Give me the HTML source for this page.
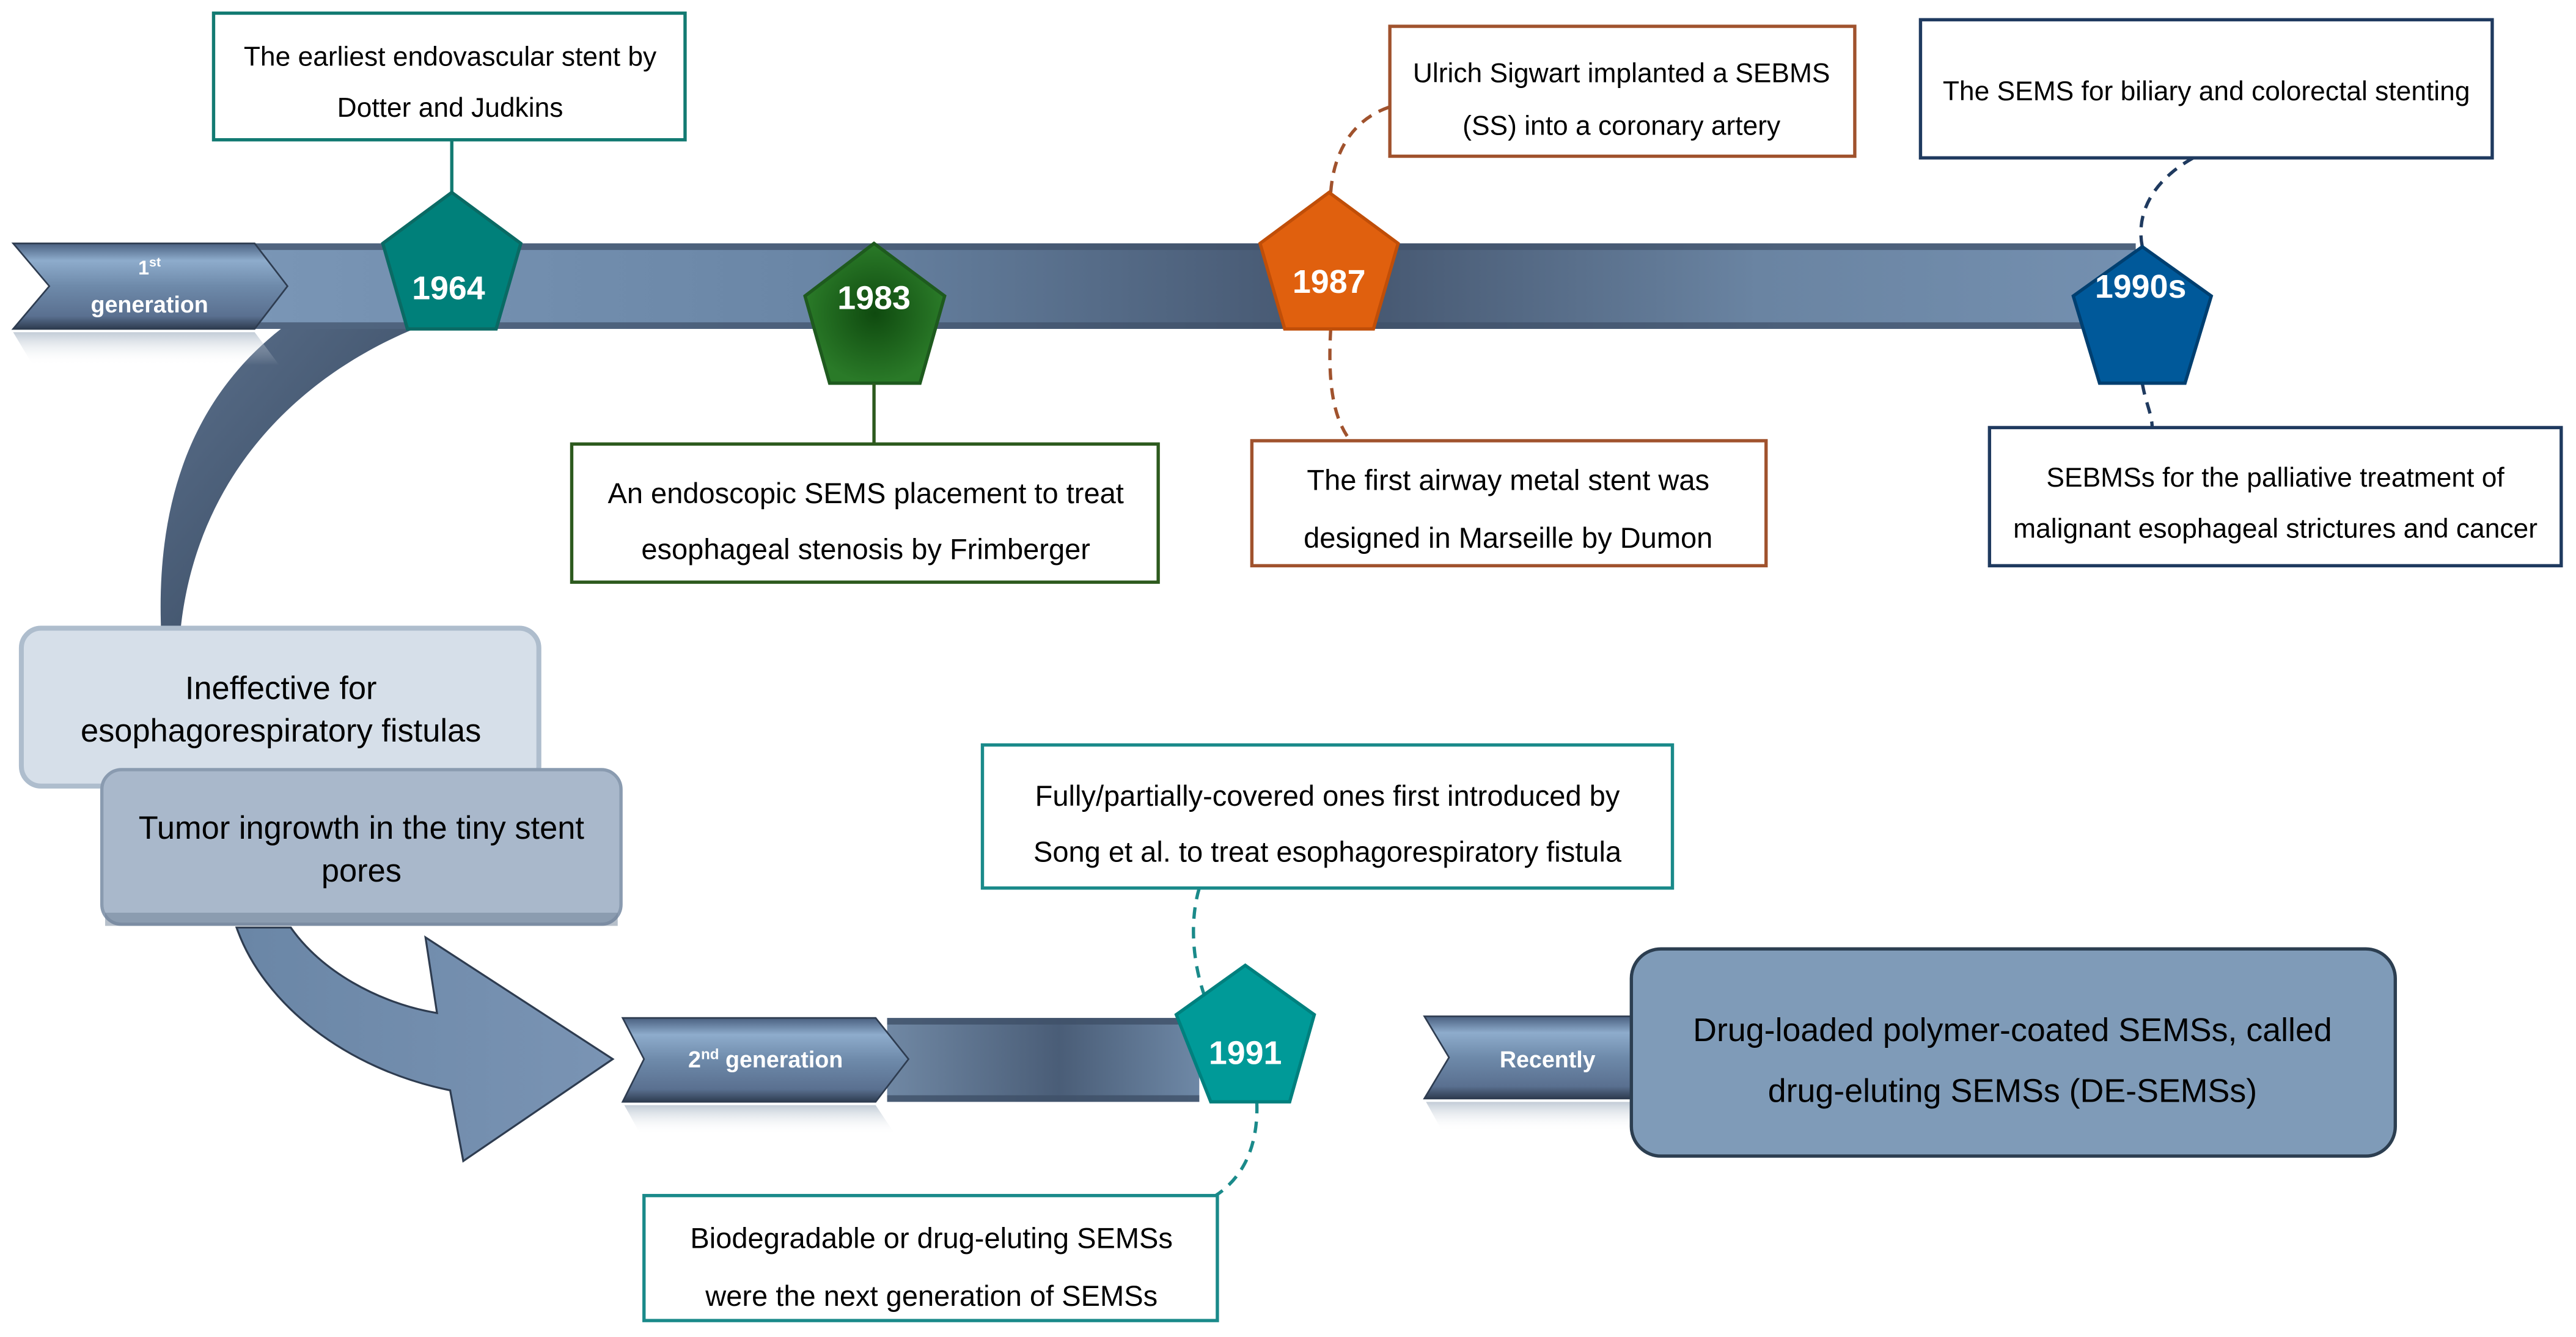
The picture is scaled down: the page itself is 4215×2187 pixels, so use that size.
<!DOCTYPE html>
<html><head><meta charset="utf-8"><style>html,body{margin:0;padding:0;background:#fff}svg{display:block}text{font-family:"Liberation Sans",Arial,sans-serif}</style></head><body>
<svg width="4215" height="2187" viewBox="0 0 1568 813" preserveAspectRatio="none" xmlns="http://www.w3.org/2000/svg">
<defs>
<linearGradient id="bar" x1="0" x2="1" y1="0" y2="0">
<stop offset="0" stop-color="#7a96b6"/><stop offset="0.3" stop-color="#6a86a6"/><stop offset="0.58" stop-color="#44556e"/><stop offset="0.8" stop-color="#6a84a2"/><stop offset="1" stop-color="#7490b0"/></linearGradient>
<linearGradient id="bar2" x1="0" x2="1"><stop offset="0" stop-color="#7088a4"/><stop offset="0.55" stop-color="#4a5d77"/><stop offset="1" stop-color="#6e88a6"/></linearGradient>
<linearGradient id="chev" x1="0" x2="0" y1="0" y2="1"><stop offset="0" stop-color="#4a6080"/><stop offset="0.2" stop-color="#8eaccc"/><stop offset="0.5" stop-color="#6e8aaa"/><stop offset="0.85" stop-color="#5a7090"/><stop offset="1" stop-color="#2e3c50"/></linearGradient>
<linearGradient id="refl" x1="0" x2="0" y1="0" y2="1"><stop offset="0" stop-color="#9aaabb" stop-opacity="0.6"/><stop offset="1" stop-color="#fff" stop-opacity="0"/></linearGradient>
<radialGradient id="g83"><stop offset="0" stop-color="#0f4a0f"/><stop offset="1" stop-color="#2a7a28"/></radialGradient>
<linearGradient id="band" x1="0" x2="1" y1="0" y2="1"><stop offset="0" stop-color="#5b708c"/><stop offset="1" stop-color="#33445a"/></linearGradient>
<linearGradient id="arr" x1="0" x2="1"><stop offset="0" stop-color="#6a86a6"/><stop offset="1" stop-color="#7a94b4"/></linearGradient>
</defs>

<!-- curved band -->
<path d="M171,200 L252,200 C180,230 120,290 110,382 L98,382 C95,300 120,240 171,200 Z" fill="url(#band)"/>

<!-- main bar -->
<rect x="150" y="148" width="1150" height="52" fill="url(#bar)"/>
<rect x="150" y="148" width="1150" height="4" fill="#3e5068" opacity="0.7"/>
<rect x="150" y="196" width="1150" height="4" fill="#3e5068" opacity="0.7"/>
<!-- 1st gen chevron -->
<polygon points="8,148 155,148 175,174 155,200 8,200 30,174" fill="url(#chev)" stroke="#2e3c50" stroke-width="1"/>
<polygon points="8,202 155,202 170,222 20,222" fill="url(#refl)"/>
<text x="91" y="167" font-size="12" font-weight="bold" fill="#fff" text-anchor="middle">1<tspan font-size="8" dy="-5">st</tspan></text>
<text x="91" y="190" font-size="14" font-weight="bold" fill="#fff" text-anchor="middle">generation</text>

<!-- 1964 -->
<line x1="275" y1="85" x2="275" y2="117" stroke="#127a72" stroke-width="2"/>
<polygon points="275,117 317,148 302,200 248,200 233,148" fill="#00807a" stroke="#0a6a64" stroke-width="2"/>
<text x="273" y="182" font-size="20" font-weight="bold" fill="#fff" text-anchor="middle">1964</text>
<rect x="130" y="8" width="287" height="77" fill="#fff" stroke="#127a72" stroke-width="2"/>
<text x="274" y="40" font-size="16.5" text-anchor="middle">The earliest endovascular stent by</text>
<text x="274" y="71" font-size="16.5" text-anchor="middle">Dotter and Judkins</text>

<!-- 1983 -->
<polygon points="532,148 575,180 560,233 505,233 490,180" fill="url(#g83)" stroke="#1e5a1e" stroke-width="2"/>
<text x="532" y="188" font-size="20" font-weight="bold" fill="#fff" text-anchor="middle">1983</text>
<line x1="532" y1="233" x2="532" y2="270" stroke="#2d5a1e" stroke-width="2"/>
<rect x="348" y="270" width="357" height="84" fill="#fff" stroke="#2d5a1e" stroke-width="2"/>
<text x="527" y="306" font-size="17.5" text-anchor="middle">An endoscopic SEMS placement to treat</text>
<text x="527" y="340" font-size="17.5" text-anchor="middle">esophageal stenosis by Frimberger</text>

<!-- 1987 -->
<path d="M810,117 C812,90 825,72 846,65" fill="none" stroke="#a0522d" stroke-width="2" stroke-dasharray="7,5"/>
<path d="M810,200 C808,235 812,255 822,268" fill="none" stroke="#a0522d" stroke-width="2" stroke-dasharray="7,5"/>
<polygon points="809,117 851,148 836,200 782,200 767,148" fill="#e0600e" stroke="#c04e08" stroke-width="2"/>
<text x="809" y="178" font-size="20" font-weight="bold" fill="#fff" text-anchor="middle">1987</text>
<rect x="846" y="16" width="283" height="79" fill="#fff" stroke="#a0522d" stroke-width="2"/>
<text x="987" y="50" font-size="16.5" text-anchor="middle">Ulrich Sigwart implanted a SEBMS</text>
<text x="987" y="82" font-size="16.5" text-anchor="middle">(SS) into a coronary artery</text>
<rect x="762" y="268" width="313" height="76" fill="#fff" stroke="#a0522d" stroke-width="2"/>
<text x="918" y="298" font-size="17.5" text-anchor="middle">The first airway metal stent was</text>
<text x="918" y="333" font-size="17.5" text-anchor="middle">designed in Marseille by Dumon</text>

<!-- 1990s -->
<path d="M1335,96 C1310,110 1300,130 1304,150" fill="none" stroke="#1f3a5f" stroke-width="2" stroke-dasharray="7,5"/>
<path d="M1304,233 C1306,245 1310,252 1310,260" fill="none" stroke="#1f3a5f" stroke-width="2" stroke-dasharray="7,5"/>
<polygon points="1304,150 1346,180 1330,233 1278,233 1262,180" fill="#00599a" stroke="#003f70" stroke-width="2"/>
<text x="1303" y="181" font-size="20" font-weight="bold" fill="#fff" text-anchor="middle">1990s</text>
<rect x="1169" y="12" width="348" height="84" fill="#fff" stroke="#1f3a5f" stroke-width="2"/>
<text x="1343" y="61" font-size="16.5" text-anchor="middle">The SEMS for biliary and colorectal stenting</text>
<rect x="1211" y="260" width="348" height="84" fill="#fff" stroke="#1f3a5f" stroke-width="2"/>
<text x="1385" y="296" font-size="16.5" text-anchor="middle">SEBMSs for the palliative treatment of</text>
<text x="1385" y="327" font-size="16.5" text-anchor="middle">malignant esophageal strictures and cancer</text>

<!-- problem boxes -->
<rect x="13" y="382" width="315" height="96" rx="12" fill="#d6dfe9" stroke="#aebdcd" stroke-width="3"/>
<text x="171" y="425" font-size="19.5" text-anchor="middle">Ineffective for</text>
<text x="171" y="451" font-size="19.5" text-anchor="middle">esophagorespiratory fistulas</text>
<rect x="62" y="468" width="316" height="94" rx="12" fill="#a9b8cb" stroke="#8a9bb0" stroke-width="2"/>
<rect x="64" y="555" width="312" height="8" fill="#6e7f96" opacity="0.5"/>
<text x="220" y="510" font-size="19.5" text-anchor="middle">Tumor ingrowth in the tiny stent</text>
<text x="220" y="536" font-size="19.5" text-anchor="middle">pores</text>

<!-- big arrow -->
<path d="M144,564 L177,564 C195,590 230,610 266,616 L259,570 L373,644 L282,706 L274,663 C210,650 160,610 144,564 Z" fill="url(#arr)" stroke="#2e3c50" stroke-width="1.2"/>

<!-- 2nd gen -->
<rect x="540" y="619" width="190" height="51" fill="url(#bar2)"/>
<rect x="540" y="619" width="190" height="4" fill="#3e5068" opacity="0.8"/>
<rect x="540" y="666" width="190" height="4" fill="#3e5068" opacity="0.8"/>
<polygon points="379,619 533,619 553,644 533,670 379,670 392,644" fill="url(#chev)" stroke="#2e3c50" stroke-width="1"/>
<polygon points="380,672 533,672 545,690 390,690" fill="url(#refl)"/>
<text x="466" y="649" font-size="14" font-weight="bold" fill="#fff" text-anchor="middle">2<tspan font-size="9" dy="-5">nd</tspan><tspan dy="5"> generation</tspan></text>
<path d="M730,540 C724,560 726,585 733,605" fill="none" stroke="#1a8a8a" stroke-width="2" stroke-dasharray="7,5"/>
<path d="M765,670 C766,695 758,715 740,727" fill="none" stroke="#1a8a8a" stroke-width="2" stroke-dasharray="7,5"/>
<polygon points="758,587 800,617 785,670 737,670 716,617" fill="#009a98" stroke="#00807e" stroke-width="2"/>
<text x="758" y="647" font-size="20" font-weight="bold" fill="#fff" text-anchor="middle">1991</text>
<rect x="598" y="453" width="420" height="87" fill="#fff" stroke="#1a8a8a" stroke-width="2"/>
<text x="808" y="490" font-size="17.5" text-anchor="middle">Fully/partially-covered ones first introduced by</text>
<text x="808" y="524" font-size="17.5" text-anchor="middle">Song et al. to treat esophagorespiratory fistula</text>
<rect x="392" y="727" width="349" height="76" fill="#fff" stroke="#1a8a8a" stroke-width="2"/>
<text x="567" y="759" font-size="17.5" text-anchor="middle">Biodegradable or drug-eluting SEMSs</text>
<text x="567" y="794" font-size="17.5" text-anchor="middle">were the next generation of SEMSs</text>

<!-- recently -->
<polygon points="867,618 998,618 1018,643 998,668 867,668 882,643" fill="url(#chev)" stroke="#2e3c50" stroke-width="1"/>
<polygon points="868,670 998,670 1010,688 878,688" fill="url(#refl)"/>
<text x="942" y="649" font-size="14" font-weight="bold" fill="#fff" text-anchor="middle">Recently</text>
<rect x="993" y="577" width="465" height="126" rx="18" fill="#7f9bb8" stroke="#2c3e50" stroke-width="2"/>
<text x="1225" y="633" font-size="20" text-anchor="middle">Drug-loaded polymer-coated SEMSs, called</text>
<text x="1225" y="670" font-size="20" text-anchor="middle">drug-eluting SEMSs (DE-SEMSs)</text>
</svg>
</body></html>
